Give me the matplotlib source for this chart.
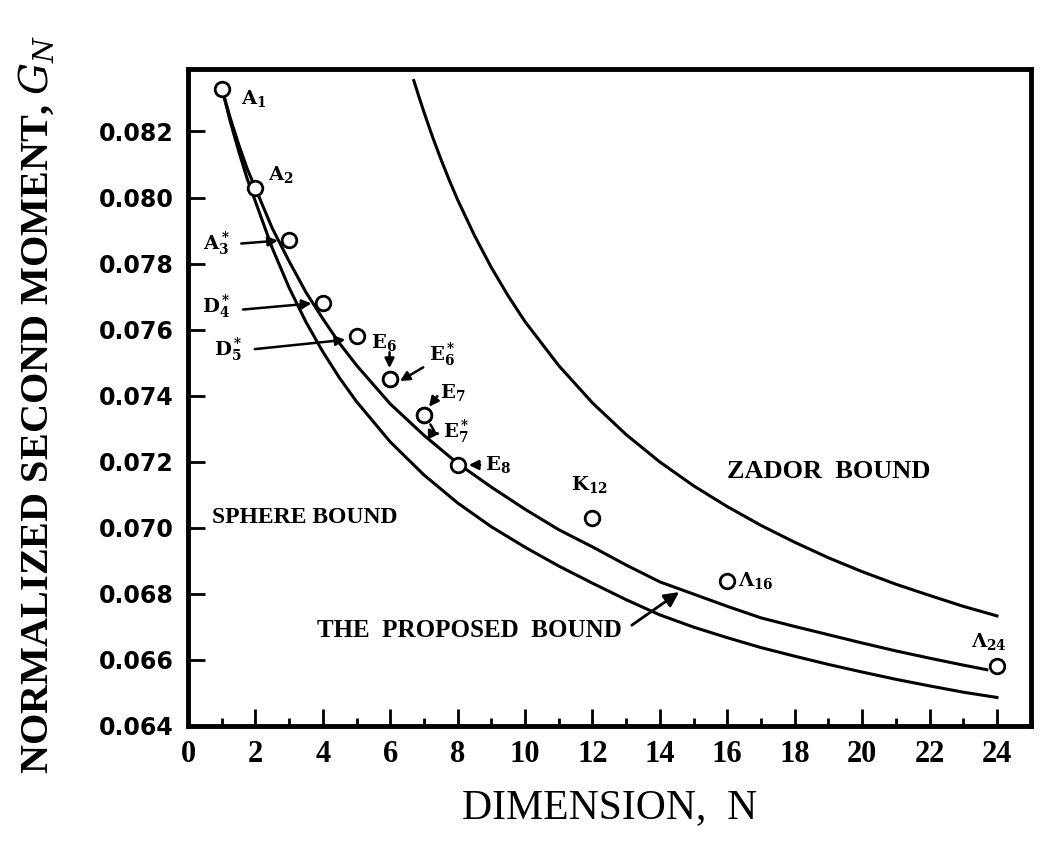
import matplotlib.pyplot as plt
from matplotlib.ticker import MultipleLocator

# bound curves, values
n_sphere = [1, 1.25, 1.5, 1.75, 2, 2.5, 3, 3.5, 4, 4.5, 5, 6, 7, 8, 9, 10, 11, 12,
            13, 14, 15, 16, 17, 18, 19, 20, 21, 22, 23, 24]
g_sphere = [0.08333, 0.08232, 0.08142, 0.08059, 0.07988, 0.07847, 0.07727, 0.07623,
            0.07533, 0.07453, 0.07382, 0.07260, 0.07160, 0.07075, 0.07003, 0.06941,
            0.06884, 0.06832, 0.06782, 0.06736, 0.06699, 0.06667, 0.06637, 0.06611,
            0.06586, 0.06563, 0.06541, 0.06521, 0.06502, 0.06486]

n_prop = [1, 1.25, 1.5, 1.75, 2, 2.5, 3, 3.5, 4, 4.5, 5, 6, 7, 8, 9, 10, 11, 12,
          13, 14, 15, 16, 17, 18, 19, 20, 21, 22, 23, 23.7]
g_prop = [0.08333, 0.08242, 0.08162, 0.08089, 0.08028, 0.07907, 0.07807, 0.07713,
          0.07633, 0.07558, 0.07492, 0.07375, 0.07280, 0.07195, 0.07123, 0.07056,
          0.06994, 0.06942, 0.06887, 0.06836, 0.06799, 0.06762, 0.06727, 0.06701,
          0.06676, 0.06651, 0.06627, 0.06605, 0.06584, 0.06570]

n_zador = [6.7, 6.85, 7, 7.25, 7.5, 7.75, 8, 8.5, 9, 9.5, 10, 11, 12, 13, 14, 15,
           16, 17, 18, 19, 20, 21, 22, 23, 24]
g_zador = [0.08354, 0.08306, 0.08259, 0.08185, 0.08117, 0.08053, 0.07993, 0.07885,
           0.07788, 0.07702, 0.07624, 0.07491, 0.07378, 0.07282, 0.07199, 0.07127,
           0.07064, 0.07007, 0.06956, 0.06909, 0.06867, 0.06829, 0.06795, 0.06762,
           0.06733]

# lattices
lat_names = ["A1", "A2", "A3*", "D4*", "D5*", "E6", "E6*", "E7", "E7*", "E8", "K12", "L16", "L24"]
lat_n = [1, 2, 3, 4, 5, 6, 6, 7, 7, 8, 12, 16, 24]
lat_g = [0.0833, 0.0803, 0.0787, 0.0768, 0.0758, 0.0745, 0.0745, 0.0734, 0.0734,
         0.0719, 0.0703, 0.0684, 0.0658]

xticks = list(range(0, 25, 2))
yticks = [0.064, 0.066, 0.068, 0.070, 0.072, 0.074, 0.076, 0.078, 0.080, 0.082]

plt.rcParams['mathtext.fontset'] = 'dejavuserif'
fig = plt.figure(figsize=(10.56, 8.59), dpi=100)
ax = fig.add_axes([0.178, 0.155, 0.798, 0.765])

ax.plot(n_sphere, g_sphere, color="black", lw=2.2)
ax.plot(n_prop, g_prop, color="black", lw=2.2)
ax.plot(n_zador, g_zador, color="black", lw=2.2)
ax.plot(lat_n, lat_g, linestyle="none", marker="o", markersize=10.5,
        markerfacecolor="white", markeredgecolor="black", markeredgewidth=2, zorder=5)

ax.set_xlim(0, 25)
ax.set_ylim(0.064, 0.0839)
ax.set_xticks(xticks)
ax.xaxis.set_minor_locator(MultipleLocator(1))
ax.set_yticks(yticks)
ax.set_yticklabels([f"{v:.3f}" for v in yticks], fontfamily="DejaVu Sans",
                   fontweight="bold", fontsize=17)
ax.set_xticklabels([str(v) for v in xticks], fontfamily="Liberation Serif",
                   fontweight="bold", fontsize=22)
ax.tick_params(axis="both", which="major", direction="in", length=12, width=2, pad=10)
ax.tick_params(axis="x", which="minor", direction="in", length=6, width=2)
ax.tick_params(top=False, right=False)
for s in ax.spines.values():
    s.set_linewidth(3.5)

serif = dict(fontfamily="Liberation Serif", fontweight="bold", color="black")
ax.set_xlabel("DIMENSION,  N", fontsize=30, fontfamily="Liberation Serif")
ax.xaxis.set_label_coords(0.5, -0.095)
ax.set_ylabel(r"NORMALIZED SECOND MOMENT, $G_N$", fontsize=29,
              fontfamily="Liberation Serif", fontweight="bold")
ax.yaxis.set_label_coords(-0.156, 0.49)

ax.text(3.45, 0.0703, "SPHERE BOUND", fontsize=17, ha="center", va="center", **serif)
ax.text(19.0, 0.0717, "ZADOR  BOUND", fontsize=19, ha="center", va="center", **serif)
ax.text(8.35, 0.0669, "THE  PROPOSED  BOUND", fontsize=18, ha="center", va="center", **serif)
ax.annotate("", xy=(14.64, 0.0681), xytext=(13.1, 0.0670),
            arrowprops=dict(arrowstyle="-|>", color="black", lw=2, mutation_scale=22))

lab = dict(fontsize=14, ha="center", va="center", fontfamily="DejaVu Serif", fontweight="bold")
arr = dict(arrowstyle="-|>", color="black", lw=1.8, mutation_scale=14)

ax.text(1.95, 0.0830, r"$\mathbf{A_1}$", **lab)
ax.text(2.75, 0.0807, r"$\mathbf{A_2}$", **lab)

ax.text(0.85, 0.0786, r"$\mathbf{A_3^*}$", **lab)
ax.annotate("", xy=(2.75, 0.0787), xytext=(1.5, 0.0786), arrowprops=arr)
ax.text(0.85, 0.0767, r"$\mathbf{D_4^*}$", **lab)
ax.annotate("", xy=(3.75, 0.0768), xytext=(1.55, 0.0766), arrowprops=arr)
ax.text(1.2, 0.0754, r"$\mathbf{D_5^*}$", **lab)
ax.annotate("", xy=(4.75, 0.0757), xytext=(1.9, 0.0754), arrowprops=arr)

ax.text(5.8, 0.0756, r"$\mathbf{E_6}$", **lab)
ax.annotate("", xy=(5.98, 0.07475), xytext=(5.98, 0.0754), arrowprops=arr)
ax.text(7.55, 0.07525, r"$\mathbf{E_6^*}$", **lab)
ax.annotate("", xy=(6.22, 0.0744), xytext=(7.05, 0.0749), arrowprops=arr)

ax.text(7.85, 0.0741, r"$\mathbf{E_7}$", **lab)
ax.annotate("", xy=(7.1, 0.0736), xytext=(7.45, 0.07405), arrowprops=arr)
ax.text(7.95, 0.0729, r"$\mathbf{E_7^*}$", **lab)
ax.annotate("", xy=(7.35, 0.07285), xytext=(7.15, 0.0732), arrowprops=dict(arrowstyle="-", lw=1.8))
ax.annotate("", xy=(7.55, 0.07285), xytext=(7.3, 0.07285), arrowprops=arr)

ax.text(9.2, 0.0719, r"$\mathbf{E_8}$", **lab)
ax.annotate("", xy=(8.25, 0.0719), xytext=(8.75, 0.0719), arrowprops=arr)

ax.text(11.9, 0.0713, r"$\mathbf{K_{12}}$", **lab)
ax.text(16.85, 0.0684, r"$\mathbf{\Lambda_{16}}$", **lab)
ax.text(23.75, 0.06655, r"$\mathbf{\Lambda_{24}}$", **lab)

fig.savefig("out.png", dpi=100)
